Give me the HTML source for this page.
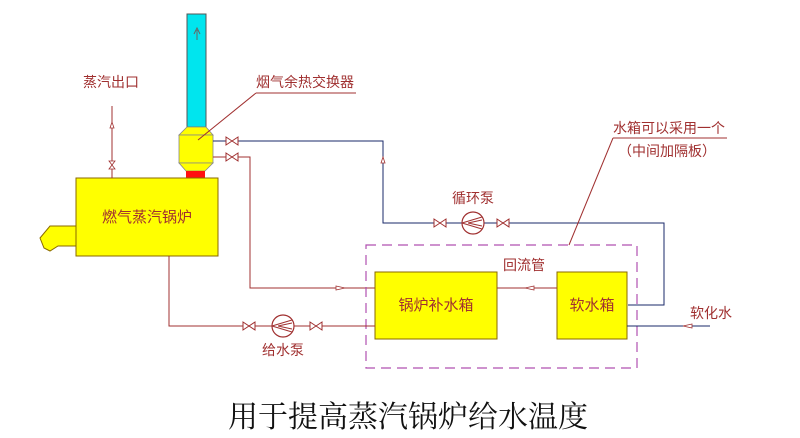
<!DOCTYPE html>
<html><head><meta charset="utf-8"><style>
html,body{margin:0;padding:0;background:#fff;}
svg{display:block;}
text{font-family:"Liberation Sans","Noto Sans CJK SC",sans-serif;}
</style></head><body>
<svg width="800" height="438" viewBox="0 0 800 438" xmlns="http://www.w3.org/2000/svg">
<defs>
<g id="valve"><path d="M-6,-4 L6,4 L6,-4 L-6,4 Z" fill="#fff" stroke="#a03030" stroke-width="1"/></g>
<g id="pump"><circle r="11" fill="#fff" stroke="#a03030" stroke-width="1.2"/><path d="M-11,0 L9,-6 M-11,0 L9,6 M-5,0 L9,-3 M-5,0 L9,3" stroke="#a03030" fill="none" stroke-width="1"/></g>
</defs>
<rect x="187" y="14" width="19" height="113" fill="#00e5ee" stroke="#555" stroke-width="1"/>
<path d="M197,40 L197,30 M194,34 L197,28 L200,34" stroke="#666" fill="none" stroke-width="1"/>
<path d="M187,127 L206,127 L213,135 L179,135 Z" fill="#ffff00" stroke="#888" stroke-width="0.8"/>
<rect x="179" y="135" width="34" height="28" fill="#ffff00" stroke="#888" stroke-width="0.8"/>
<path d="M179,163 L213,163 L205,171 L186,171 Z" fill="#ffff00" stroke="#888" stroke-width="0.8"/>
<rect x="186" y="171" width="19" height="7" fill="#ff1010"/>
<rect x="76" y="178" width="142" height="78" fill="#ffff00" stroke="#8a6a00" stroke-width="1"/>
<path d="M76,226 L50,226 L40,238 L44,248 L50,251 L58,246 L76,246 Z" fill="#ffff00" stroke="#8a6a00" stroke-width="1"/>
<text x="147" y="222" font-size="15" fill="#a03030" text-anchor="middle">燃气蒸汽锅炉</text>
<line x1="112" y1="106" x2="112" y2="178" stroke="#a03030"/>
<path d="M110,128 L112,122 L114,128 Z" fill="#fff" stroke="#a03030" stroke-width="0.8"/>
<path d="M109,161 L115,169 L109,169 L115,161 Z" fill="#fff" stroke="#a03030" stroke-width="0.8"/>
<text x="83" y="87" font-size="14" fill="#a03030">蒸汽出口</text>
<text x="256" y="87" font-size="14" fill="#a03030">烟气余热交换器</text>
<line x1="256" y1="93" x2="356" y2="93" stroke="#a03030"/>
<line x1="256" y1="93" x2="198" y2="140" stroke="#a03030"/>
<polyline points="213,141 383,141 383,223 664,223 664,305 628,305" fill="none" stroke="#1a2a6a" stroke-width="1"/>
<use href="#valve" x="232" y="141"/>
<path d="M381,163 L383,157 L385,163 Z" fill="#fff" stroke="#a03030" stroke-width="0.8"/>
<use href="#valve" x="440" y="223"/>
<use href="#valve" x="503" y="223"/>
<use href="#pump" x="473" y="223"/>
<text x="473" y="203" font-size="14" fill="#a03030" text-anchor="middle">循环泵</text>
<polyline points="213,157 250,157 250,288 375,288" fill="none" stroke="#a03030"/>
<use href="#valve" x="232" y="157"/>
<path d="M336,286 L345,288 L336,290 Z" fill="#fff" stroke="#a03030" stroke-width="0.8"/>
<rect x="366" y="245" width="271" height="123" fill="none" stroke="#b050b0" stroke-width="1.2" stroke-dasharray="10,6"/>
<text x="524" y="270" font-size="14" fill="#a03030" text-anchor="middle">回流管</text>
<rect x="375" y="272" width="122" height="67" fill="#ffff00" stroke="#8a6a00"/>
<text x="436" y="310" font-size="15" fill="#a03030" text-anchor="middle">锅炉补水箱</text>
<rect x="557" y="272" width="70" height="67" fill="#ffff00" stroke="#8a6a00"/>
<text x="592" y="310" font-size="15" fill="#a03030" text-anchor="middle">软水箱</text>
<line x1="497" y1="288" x2="557" y2="288" stroke="#a03030"/>
<path d="M534,286 L525,288 L534,290 Z" fill="#fff" stroke="#a03030" stroke-width="0.8"/>
<polyline points="169,256 169,326 375,326" fill="none" stroke="#a03030"/>
<use href="#valve" x="249" y="326"/>
<use href="#valve" x="316" y="326"/>
<use href="#pump" x="283" y="326"/>
<text x="283" y="355" font-size="14" fill="#a03030" text-anchor="middle">给水泵</text>
<line x1="627" y1="326" x2="710" y2="326" stroke="#1a2a6a"/>
<path d="M692,324 L683,326 L692,328 Z" fill="#fff" stroke="#a03030" stroke-width="0.8"/>
<text x="690" y="318" font-size="14" fill="#a03030">软化水</text>
<text x="613" y="133" font-size="14" fill="#a03030">水箱可以采用一个</text>
<line x1="613" y1="138" x2="727" y2="138" stroke="#a03030"/>
<text x="618" y="156" font-size="14" fill="#a03030">（中间加隔板）</text>
<line x1="613" y1="138" x2="569" y2="245" stroke="#a03030"/>
<text x="408" y="427" font-size="30" fill="#111" text-anchor="middle" style="font-family:'Liberation Serif','Noto Serif CJK SC',serif">用于提高蒸汽锅炉给水温度</text>
</svg>
</body></html>
